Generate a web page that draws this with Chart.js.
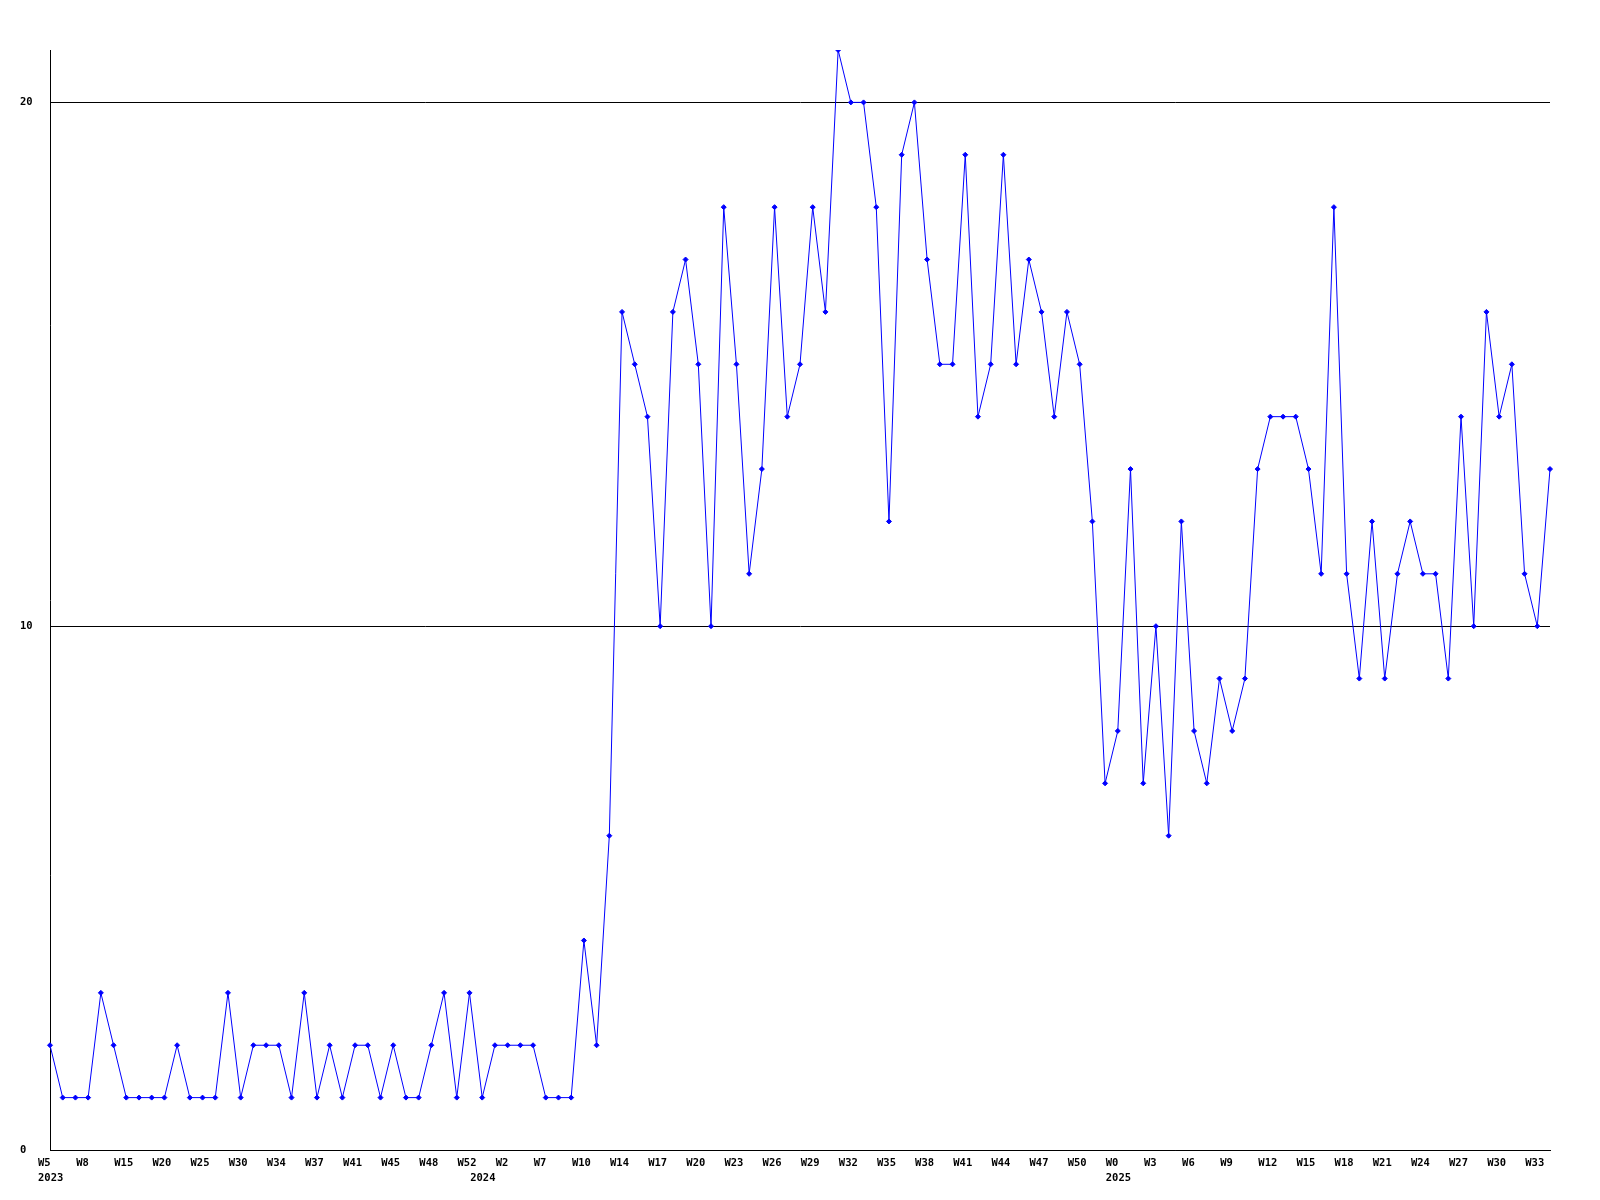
<!DOCTYPE html>
<html>
<head>
<meta charset="utf-8">
<title>Weekly count</title>
<script src="https://cdn.jsdelivr.net/npm/chart.js@4/dist/chart.umd.min.js"></script>
<style>
  html, body { margin: 0; padding: 0; background: #fff; }
  canvas { display: block; }
</style>
</head>
<body>
<canvas id="chart" width="1600" height="1200"></canvas>
<script>
// weekly values, 2023 W5 .. 2025 W34 (one entry per data point)
const values2023 = [2, 1, 1, 1, 3, 2, 1, 1, 1, 1, 2, 1, 1, 1, 3, 1, 2, 2, 2, 1, 3, 1,
    2, 1, 2, 2, 1, 2, 1, 1, 2, 3, 1, 3, 1, 2, 2, 2, 2, 1, 1, 1, 4, 2];
const values2024 = [6, 16, 15, 14, 10, 16, 17, 15, 10, 18, 15, 11, 13, 18, 14, 15, 18, 16,
    21, 20, 20, 18, 12, 19, 20, 17, 15, 15, 19, 14, 15, 19, 15, 17, 16, 14, 16, 15, 12];
const values2025 = [7, 8, 13, 7, 10, 6, 12, 8, 7, 9, 8, 9, 13, 14, 14, 14, 13, 11, 18, 11,
    9, 12, 9, 11, 12, 11, 11, 9, 14, 10, 16, 14, 15, 11, 10, 13];

// x tick labels, shown on every third point
const weekTicks = ['W5', 'W8', 'W15', 'W20', 'W25', 'W30', 'W34', 'W37', 'W41', 'W45',
    'W48', 'W52', 'W2', 'W7', 'W10', 'W14', 'W17', 'W20', 'W23', 'W26', 'W29', 'W32',
    'W35', 'W38', 'W41', 'W44', 'W47', 'W50', 'W0', 'W3', 'W6', 'W9', 'W12', 'W15',
    'W18', 'W21', 'W24', 'W27', 'W30', 'W33'];
const yearTicks = ['2023', '2024', '2025'];
const yearTickPoints = [0, 34, 84];
const yTicks = [0, 10, 20];

const values = values2023.concat(values2024, values2025);
const labels = values.map(function (v, i) {
    var week = (i % 3 === 0) ? (weekTicks[i / 3] || '') : '';
    var y = yearTickPoints.indexOf(i);
    return y >= 0 ? [week, yearTicks[y]] : week;
});

const tickFont = { family: '"DejaVu Sans Mono", monospace', size: 10.5, weight: 'bold', lineHeight: 1.4 };

new Chart(document.getElementById('chart').getContext('2d'), {
    type: 'line',
    data: {
        labels: labels,
        datasets: [{
            data: values,
            borderColor: '#0000ff',
            backgroundColor: '#0000ff',
            borderWidth: 1,
            tension: 0,
            pointStyle: 'rectRot',
            pointRadius: 2.5,
            pointBorderWidth: 1,
            fill: false
        }]
    },
    options: {
        responsive: false,
        animation: false,
        devicePixelRatio: 1,
        layout: { padding: { left: 20, right: 50, top: 50, bottom: 0 } },
        plugins: {
            legend: { display: false },
            tooltip: { enabled: false }
        },
        scales: {
            x: {
                type: 'category',
                offset: false,
                grid: { display: false, drawTicks: false },
                border: { display: true, color: '#000', width: 1 },
                ticks: {
                    autoSkip: false,
                    maxRotation: 0,
                    minRotation: 0,
                    align: 'start',
                    labelOffset: -12,
                    padding: 6,
                    color: '#000',
                    font: tickFont
                },
                afterFit: function (scale) { scale.height = 50; }
            },
            y: {
                min: 0,
                max: 21,
                grid: { color: '#000', lineWidth: 1, drawTicks: false },
                border: { display: true, color: '#000', width: 1 },
                afterBuildTicks: function (scale) {
                    scale.ticks = yTicks.map(function (v) { return { value: v }; });
                },
                ticks: {
                    crossAlign: 'far',
                    padding: 4,
                    color: '#000',
                    font: tickFont
                },
                afterFit: function (scale) { scale.width = 30; }
            }
        }
    }
});
</script>
</body>
</html>
